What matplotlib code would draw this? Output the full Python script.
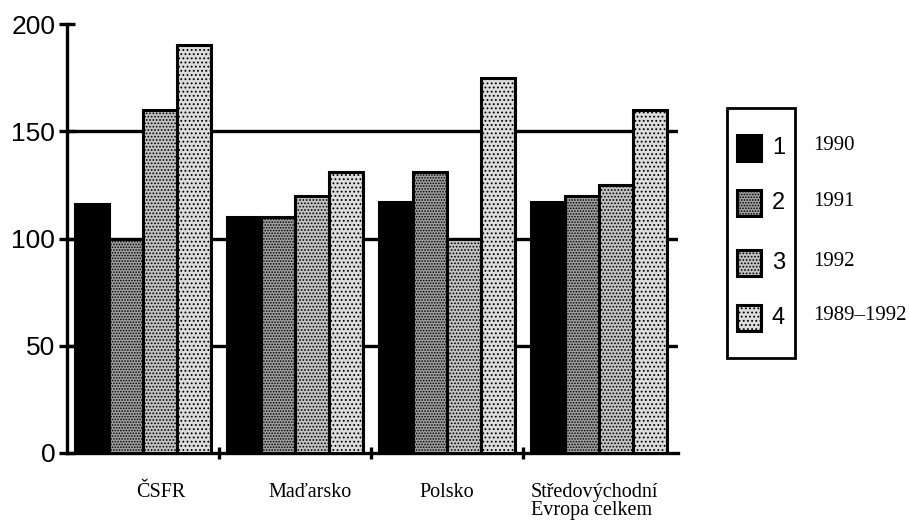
import numpy as np
import matplotlib
matplotlib.use("Agg")
import matplotlib.pyplot as plt
from matplotlib.patches import Rectangle

# data
skupiny = ["ČSFR", "Maďarsko", "Polsko", "Středovýchodní\nEvropa celkem"]
roky = ["1990", "1991", "1992", "1989–1992"]
cisla = ["1", "2", "3", "4"]
r1990 = [116, 110, 117, 117]
r1991 = [100, 110, 131, 120]
r1992 = [160, 120, 100, 125]
r8992 = [190, 131, 175, 160]
yticks = [0, 50, 100, 150, 200]

rady = [r1990, r1991, r1992, r8992]
barvy = ["black", "#a0a0a0", "#c2c2c2", "#dcdcdc"]
srafy = [None, "......", ".....", "...."]
label_x = [0.62, 1.6, 2.5, 3.05]
label_ha = ["center", "center", "center", "left"]

plt.rcParams["hatch.linewidth"] = 0.8

fig = plt.figure(figsize=(9.1, 5.21), dpi=100)
ax = fig.add_axes([67 / 910, 68 / 521, 611 / 910, 429 / 521])

sirka = 0.225
x = np.arange(len(skupiny))
for i, hodnoty in enumerate(rady):
    ax.bar(x + 0.05 + i * sirka, hodnoty, width=sirka, align="edge",
           color=barvy[i], hatch=srafy[i], edgecolor="black",
           linewidth=2.2, zorder=3)

# horizontal lines behind the bars, they stick out on the right
ax.hlines([50, 100, 150], 0, 4.02, colors="black", linewidth=2.4, zorder=1)

ax.set_xlim(0, 4.02)
ax.set_ylim(0, 200)
ax.spines["top"].set_visible(False)
ax.spines["right"].set_visible(False)
ax.spines["left"].set_linewidth(2.4)
ax.spines["bottom"].set_linewidth(2.4)

ax.set_yticks(yticks)
ax.set_yticklabels([str(v) for v in yticks], family="Liberation Sans", fontsize=19)
ax.tick_params(axis="y", direction="inout", length=11, width=2.4, pad=3)
ax.set_xticks([1, 2, 3])
ax.set_xticklabels([])
ax.tick_params(axis="x", direction="inout", length=9, width=2.4)

for i, nazev in enumerate(skupiny):
    ax.text(label_x[i], -14, nazev, ha=label_ha[i], va="top",
            family="Liberation Serif", fontsize=14.5, linespacing=0.9)

# legend drawn by hand
leg = fig.add_axes([0, 0, 1, 1])
leg.set_xlim(0, 910)
leg.set_ylim(521, 0)
leg.axis("off")
leg.add_patch(Rectangle((727, 108), 68, 250, fill=False, edgecolor="black", linewidth=2))
radky = [147, 202, 262, 317]
for i in range(4):
    leg.add_patch(Rectangle((737, radky[i] - 12), 24, 26, facecolor=barvy[i],
                            hatch=srafy[i], edgecolor="black", linewidth=2.2))
    leg.text(772, radky[i] + 1, cisla[i], ha="left", va="center",
             family="Liberation Sans", fontsize=17)
    leg.text(813, radky[i] - 1, roky[i], ha="left", va="center",
             family="Liberation Serif", fontsize=15)

fig.savefig("out.png", dpi=100)
